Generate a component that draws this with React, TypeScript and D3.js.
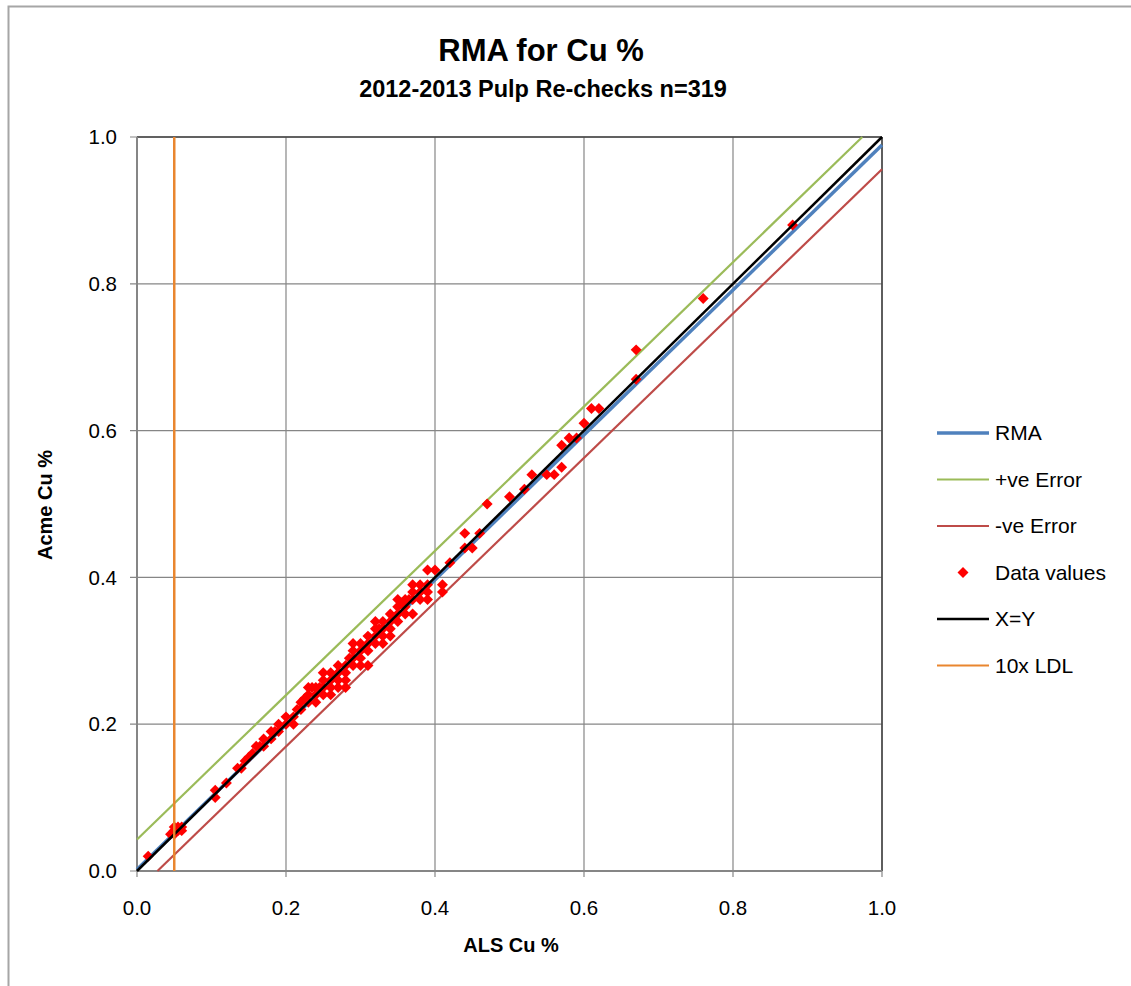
import React from "react";
import * as d3 from "d3";

// ALS vs Acme pulp re-check pairs (Cu %)
const alsCu = [
  0.015, 0.045, 0.05, 0.05, 0.055, 0.06, 0.055, 0.06, 0.05,
  0.105, 0.105, 0.12, 0.135, 0.14, 0.145, 0.15, 0.155, 0.16, 0.17, 0.17,
  0.18, 0.18, 0.19, 0.19, 0.2, 0.2, 0.21, 0.21, 0.215, 0.22, 0.22, 0.23,
  0.23, 0.24, 0.235, 0.24, 0.25, 0.25, 0.26, 0.26, 0.27, 0.27, 0.27, 0.26,
  0.28, 0.28, 0.28, 0.27, 0.29, 0.29, 0.29, 0.29, 0.3, 0.3, 0.3, 0.31,
  0.31, 0.31, 0.31, 0.32, 0.32, 0.32, 0.33, 0.33, 0.33, 0.33, 0.34, 0.34,
  0.34, 0.34, 0.35, 0.35, 0.35, 0.35, 0.36, 0.36, 0.36, 0.37, 0.37, 0.37,
  0.37, 0.38, 0.38, 0.39, 0.39, 0.39, 0.39, 0.4, 0.41, 0.41, 0.42, 0.44,
  0.44, 0.45, 0.46, 0.47, 0.5, 0.52, 0.53, 0.55, 0.56, 0.57, 0.57, 0.58,
  0.59, 0.6, 0.61, 0.62, 0.67, 0.67, 0.76, 0.88,
  0.23, 0.24, 0.25, 0.28, 0.3, 0.355, 0.38, 0.25, 0.26, 0.32,
  0.165, 0.185, 0.225, 0.245, 0.265, 0.285, 0.305, 0.325, 0.345, 0.365,
];
const acmeCu = [
  0.02, 0.05, 0.05, 0.06, 0.055, 0.06, 0.06, 0.055, 0.055,
  0.1, 0.11, 0.12, 0.14, 0.14, 0.15, 0.155, 0.16, 0.17, 0.17, 0.18,
  0.18, 0.19, 0.19, 0.2, 0.2, 0.21, 0.2, 0.21, 0.22, 0.22, 0.23, 0.23,
  0.24, 0.24, 0.25, 0.25, 0.25, 0.26, 0.26, 0.25, 0.25, 0.26, 0.27, 0.27,
  0.25, 0.27, 0.28, 0.28, 0.28, 0.29, 0.3, 0.31, 0.29, 0.3, 0.31, 0.28,
  0.3, 0.31, 0.32, 0.31, 0.32, 0.33, 0.31, 0.32, 0.33, 0.34, 0.32, 0.33,
  0.34, 0.35, 0.34, 0.35, 0.36, 0.37, 0.35, 0.36, 0.37, 0.35, 0.37, 0.38,
  0.39, 0.38, 0.39, 0.37, 0.38, 0.39, 0.41, 0.41, 0.38, 0.39, 0.42, 0.44,
  0.46, 0.44, 0.46, 0.5, 0.51, 0.52, 0.54, 0.54, 0.54, 0.55, 0.58, 0.59,
  0.59, 0.61, 0.63, 0.63, 0.67, 0.71, 0.78, 0.88,
  0.25, 0.23, 0.24, 0.26, 0.28, 0.365, 0.37, 0.27, 0.24, 0.34,
  0.17, 0.19, 0.235, 0.25, 0.265, 0.29, 0.305, 0.33, 0.345, 0.37,
];

const tickValues = [0, 0.2, 0.4, 0.6, 0.8, 1.0];

// fitted lines
const rmaSlope = 0.987;
const rmaIntercept = 0.002;
const errSlope = 0.983;
const posErrIntercept = 0.043;
const negErrIntercept = -0.027;
const ldl10x = 0.05;

const legendLabels = ["RMA", "+ve Error", "-ve Error", "Data values", "X=Y", "10x LDL"];
const legendColors = ["#4F81BD", "#9BBB59", "#BE4B48", "#FF0000", "#000000", "#E9862F"];

const left = 137;
const right = 882;
const top = 137;
const bottom = 871;

const font = "'Liberation Sans', Arial, sans-serif";

export default function App() {
  const x = d3.scaleLinear().domain([0, 1]).range([left, right]);
  const y = d3.scaleLinear().domain([0, 1]).range([bottom, top]);

  // segment of y = m*x + b clipped to the unit square
  const clipLine = (m: number, b: number) => {
    const x0 = Math.max(0, -b / m);
    const x1 = Math.min(1, (1 - b) / m);
    return d3.line()([
      [x(x0), y(m * x0 + b)],
      [x(x1), y(m * x1 + b)],
    ]);
  };

  const diamond = d3.symbol(d3.symbolSquare, 60)();

  return (
    <svg
      width={1131}
      height={986}
      style={{ position: "absolute", left: 0, top: 0, background: "#fff" }}
    >
      <rect x={8.5} y={6.5} width={1200} height={1200} fill="none" stroke="#a6a6a6" strokeWidth={2} />

      <text x={541} y={61} textAnchor="middle" fontFamily={font} fontWeight="bold" fontSize={31}>
        RMA for Cu %
      </text>
      <text x={543} y={97} textAnchor="middle" fontFamily={font} fontWeight="bold" fontSize={23.5}>
        2012-2013 Pulp Re-checks n=319
      </text>

      {/* grid */}
      {tickValues.map((t) => (
        <g key={t}>
          <line x1={x(t)} x2={x(t)} y1={top} y2={bottom + 6} stroke="#868686" strokeWidth={1.2} />
          <line x1={left - 7} x2={right} y1={y(t)} y2={y(t)} stroke="#868686" strokeWidth={1.2} />
        </g>
      ))}
      <line x1={left} x2={right} y1={top} y2={top} stroke="#404040" strokeWidth={1.5} />
      <line x1={right} x2={right} y1={top} y2={bottom} stroke="#404040" strokeWidth={1.5} />
      <line x1={left} x2={left} y1={top} y2={bottom} stroke="#868686" strokeWidth={2} />
      <line x1={left} x2={right} y1={bottom} y2={bottom} stroke="#868686" strokeWidth={2} />

      {/* tick labels */}
      {tickValues.map((t) => (
        <g key={"l" + t} fontFamily={font} fontSize={20.5} fill="#000">
          <text x={117} y={y(t)} dy="0.35em" textAnchor="end">
            {t.toFixed(1)}
          </text>
          <text x={x(t)} y={915} textAnchor="middle">
            {t.toFixed(1)}
          </text>
        </g>
      ))}

      <text x={511} y={952} textAnchor="middle" fontFamily={font} fontWeight="bold" fontSize={20}>
        ALS Cu %
      </text>
      <text
        transform="translate(52,505) rotate(-90)"
        textAnchor="middle"
        fontFamily={font}
        fontWeight="bold"
        fontSize={20}
      >
        Acme Cu %
      </text>

      {/* series */}
      <path d={clipLine(rmaSlope, rmaIntercept) ?? ""} stroke={legendColors[0]} strokeWidth={3.5} fill="none" />
      <path d={clipLine(errSlope, posErrIntercept) ?? ""} stroke={legendColors[1]} strokeWidth={2.2} fill="none" />
      <path d={clipLine(errSlope, negErrIntercept) ?? ""} stroke={legendColors[2]} strokeWidth={2.2} fill="none" />
      {alsCu.map((v, i) => (
        <path
          key={i}
          d={diamond ?? ""}
          transform={`translate(${x(v)},${y(acmeCu[i])}) rotate(45)`}
          fill={legendColors[3]}
        />
      ))}
      <path d={clipLine(1, 0) ?? ""} stroke={legendColors[4]} strokeWidth={2.5} fill="none" />
      <line x1={x(ldl10x)} x2={x(ldl10x)} y1={y(0)} y2={y(1)} stroke={legendColors[5]} strokeWidth={2.5} />

      {/* legend */}
      {legendLabels.map((label, i) => {
        const ly = 433 + i * 46.5;
        return (
          <g key={label}>
            {label === "Data values" ? (
              <path d={diamond ?? ""} transform={`translate(963,${ly}) rotate(45)`} fill={legendColors[i]} />
            ) : (
              <line
                x1={937}
                x2={989}
                y1={ly}
                y2={ly}
                stroke={legendColors[i]}
                strokeWidth={i === 0 ? 3.5 : i === 4 ? 2.5 : 2.2}
              />
            )}
            <text x={995} y={ly} dy="0.35em" fontFamily={font} fontSize={21} fill="#000">
              {label}
            </text>
          </g>
        );
      })}
    </svg>
  );
}
